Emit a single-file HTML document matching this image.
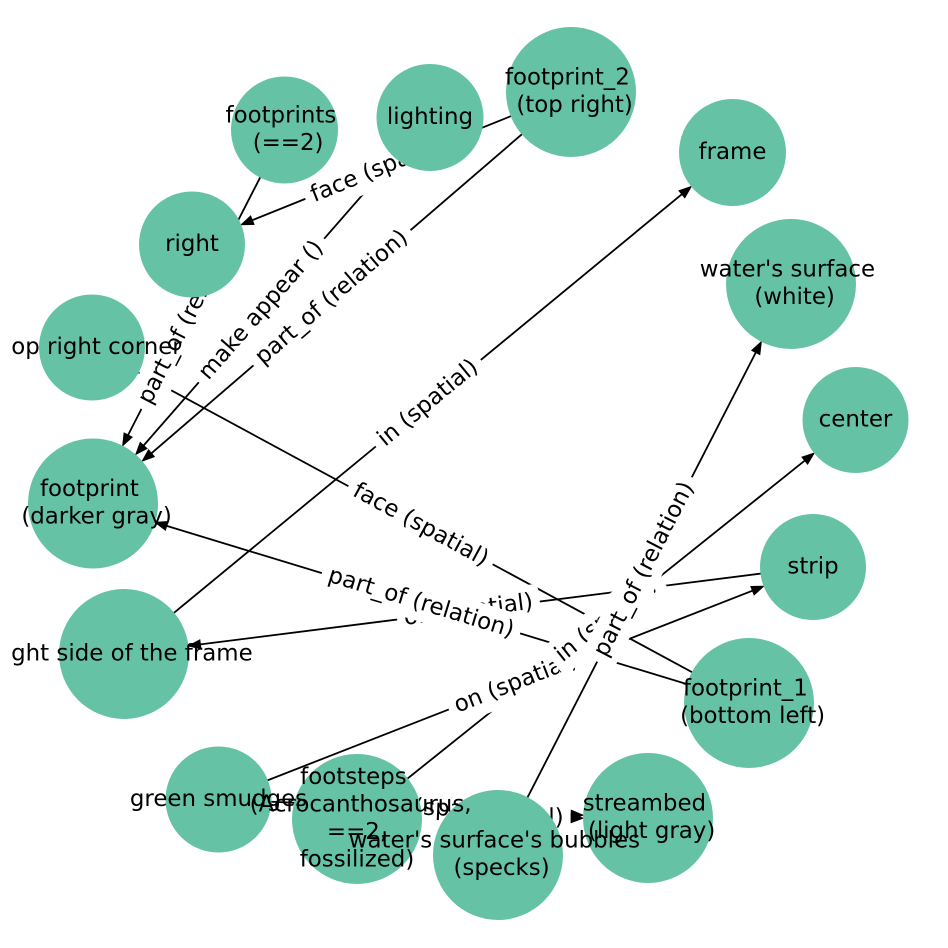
<!DOCTYPE html>
<html>
<head>
<meta charset="utf-8">
<style>
  html, body { margin: 0; padding: 0; background: #ffffff; }
  svg { display: block; }
  text { font-family: "DejaVu Sans", "Liberation Sans", sans-serif; font-size: 22.9px; fill: #000; }
</style>
</head>
<body>
<svg width="948" height="948" viewBox="0 0 948 948" xmlns="http://www.w3.org/2000/svg">
  <defs>
    <clipPath id="ax"><rect x="11" y="0" width="926" height="948"/></clipPath>
  </defs>
  <rect x="0" y="0" width="948" height="948" fill="#ffffff"/>

  <!-- edges -->
  <g stroke="#000" stroke-width="1.8" fill="none">
    <line x1="571" y1="92" x2="252.3" y2="220.2"/>
    <line x1="284.5" y1="130" x2="128.1" y2="435.0"/>
    <line x1="430" y1="117.5" x2="143.6" y2="445.5"/>
    <line x1="571" y1="92" x2="151.4" y2="453.3"/>
    <line x1="124" y1="654" x2="681.9" y2="194.2"/>
    <line x1="749" y1="703" x2="149.2" y2="378.4"/>
    <line x1="749" y1="703" x2="166.7" y2="525.9"/>
    <line x1="813" y1="567" x2="200.4" y2="644.4"/>
    <line x1="218.5" y1="799.5" x2="752.5" y2="590.7"/>
    <line x1="357" y1="819" x2="804.8" y2="460.6"/>
    <line x1="498" y1="855" x2="755.8" y2="352.5"/>
    <line x1="218.5" y1="799.5" x2="571.1" y2="814.7"/>
    <line x1="357" y1="819" x2="571" y2="818.2"/>
  </g>
  <g fill="#000" stroke="#000" stroke-width="1" stroke-linejoin="miter">
    <polygon points="241.2,224.7 250.6,216.0 254.0,224.4"/>
    <polygon points="122.7,445.7 124.1,433.0 132.1,437.1"/>
    <polygon points="135.75,454.5 140.2,442.5 147.0,448.5"/>
    <polygon points="142.3,461.1 148.5,449.9 154.3,456.7"/>
    <polygon points="691.2,186.5 684.8,197.7 679.0,190.7"/>
    <polygon points="138.6,372.7 151.3,374.4 147.1,382.4"/>
    <polygon points="155.2,522.4 168.0,521.6 165.4,530.2"/>
    <polygon points="188.5,645.9 199.8,639.9 201.0,648.9"/>
    <polygon points="763.6,586.3 754.1,594.9 750.9,586.5"/>
    <polygon points="814.1,453.1 807.6,464.1 802.0,457.1"/>
    <polygon points="761.3,341.8 759.8,354.6 751.8,350.4"/>
    <polygon points="583.1,815.2 570.9,819.2 571.3,810.2"/>
    <polygon points="583,818.2 571,822.7 571,813.7"/>
  </g>

  <!-- edge labels (bottom to top) -->
  <g transform="translate(502.5,818.5) rotate(-0.2)">
    <rect x="-68" y="-18" width="136.1" height="36" rx="6.9" fill="#fff"/>
    <text x="0" y="6.3" text-anchor="middle">in (spatial)</text>
  </g>
  <g transform="translate(433.25,808.75) rotate(2.47)">
    <rect x="-82" y="-18" width="164" height="36" rx="6.9" fill="#fff"/>
    <text x="0" y="6.3" text-anchor="middle">face (spatial)</text>
  </g>
  <g transform="translate(515.75,683.25) rotate(-21.36)">
    <rect x="-71.85" y="-18" width="143.7" height="36" rx="6.9" fill="#fff"/>
    <text x="0" y="6.3" text-anchor="middle">on (spatial)</text>
  </g>
  <g transform="translate(606.25,619.5) rotate(-38.67)">
    <rect x="-68" y="-18" width="136.1" height="36" rx="6.9" fill="#fff"/>
    <text x="0" y="6.3" text-anchor="middle">in (spatial)</text>
  </g>
  <g transform="translate(644.5,569.5) rotate(-62.84)">
    <rect x="-103.6" y="-18" width="207.2" height="36" rx="6.9" fill="#fff"/>
    <text x="0" y="6.3" text-anchor="middle">part_of (relation)</text>
  </g>
  <g transform="translate(468.5,610.5) rotate(-7.2)">
    <rect x="-71.85" y="-18" width="143.7" height="36" rx="6.9" fill="#fff"/>
    <text x="0" y="6.3" text-anchor="middle">on (spatial)</text>
  </g>
  <g transform="translate(421,603.25) rotate(16.92)">
    <rect x="-103.6" y="-18" width="207.2" height="36" rx="6.9" fill="#fff"/>
    <text x="0" y="6.3" text-anchor="middle">part_of (relation)</text>
  </g>
  <g transform="translate(420.5,525.25) rotate(28.42)">
    <rect x="-82" y="-18" width="164" height="36" rx="6.9" fill="#fff"/>
    <text x="0" y="6.3" text-anchor="middle">face (spatial)</text>
  </g>
  <g transform="translate(381.5,168.25) rotate(-21.9)">
    <rect x="-82" y="-18" width="164" height="36" rx="6.9" fill="#fff"/>
    <text x="0" y="6.3" text-anchor="middle">face (spatial)</text>
  </g>
  <g transform="translate(188.75,316.75) rotate(-62.85)">
    <rect x="-103.6" y="-18" width="207.2" height="36" rx="6.9" fill="#fff"/>
    <text x="0" y="6.3" text-anchor="middle">part_of (relation)</text>
  </g>
  <g transform="translate(261.5,310.5) rotate(-48.87)">
    <rect x="-95.3" y="-18" width="190.6" height="36" rx="6.9" fill="#fff"/>
    <text x="0" y="6.3" text-anchor="middle">make appear ()</text>
  </g>
  <g transform="translate(332,297.75) rotate(-40.72)">
    <rect x="-103.6" y="-18" width="207.2" height="36" rx="6.9" fill="#fff"/>
    <text x="0" y="6.3" text-anchor="middle">part_of (relation)</text>
  </g>
  <g transform="translate(428.25,403.25) rotate(-39.49)">
    <rect x="-68" y="-18" width="136.1" height="36" rx="6.9" fill="#fff"/>
    <text x="0" y="6.3" text-anchor="middle">in (spatial)</text>
  </g>

  <!-- nodes -->
  <g fill="#66c2a5">
    <circle cx="284.5" cy="130" r="53.5"/>
    <circle cx="430" cy="117.5" r="53.5"/>
    <circle cx="571" cy="92" r="65"/>
    <circle cx="192" cy="244.5" r="53"/>
    <circle cx="92" cy="347.5" r="53"/>
    <circle cx="732.5" cy="152.5" r="53.5"/>
    <circle cx="791" cy="284" r="65"/>
    <circle cx="855.5" cy="420" r="53"/>
    <circle cx="813" cy="567" r="53"/>
    <circle cx="749" cy="703" r="65"/>
    <circle cx="648" cy="818" r="65"/>
    <circle cx="498" cy="855" r="65"/>
    <circle cx="357" cy="819" r="65"/>
    <circle cx="218.5" cy="799.5" r="53"/>
    <circle cx="93" cy="503.5" r="65"/>
    <circle cx="124" cy="654" r="65"/>
  </g>

  <!-- node labels -->
  <g clip-path="url(#ax)" text-anchor="middle">
    <text x="280.9" y="122.5">footprints</text>
    <text x="288.1" y="150">(==2)</text>

    <text x="430" y="123.8">lighting</text>

    <text x="567.4" y="84.5">footprint_2</text>
    <text x="574.6" y="112">(top right)</text>

    <text x="192" y="250.8">right</text>

    <text x="92" y="353.8">top right corner</text>

    <text x="732.5" y="158.8">frame</text>

    <text x="787.4" y="276.5">water's surface</text>
    <text x="794.6" y="304">(white)</text>

    <text x="855.5" y="426.3">center</text>

    <text x="813" y="573.3">strip</text>

    <text x="745.4" y="695.5">footprint_1</text>
    <text x="752.6" y="723">(bottom left)</text>

    <text x="644.4" y="810.5">streambed</text>
    <text x="651.6" y="838">(light gray)</text>

    <text x="494.4" y="847.5">water's surface's bubbles</text>
    <text x="501.6" y="875">(specks)</text>

    <text x="353.4" y="784">footsteps</text>
    <text x="360.6" y="811.5">(Acrocanthosaurus,</text>
    <text x="357" y="839">==2,</text>
    <text x="357" y="866.5">fossilized)</text>

    <text x="218.5" y="805.8">green smudges</text>

    <text x="89.4" y="496">footprint</text>
    <text x="96.6" y="523.5">(darker gray)</text>

    <text x="124" y="660.3">right side of the frame</text>
  </g>
</svg>
</body>
</html>
